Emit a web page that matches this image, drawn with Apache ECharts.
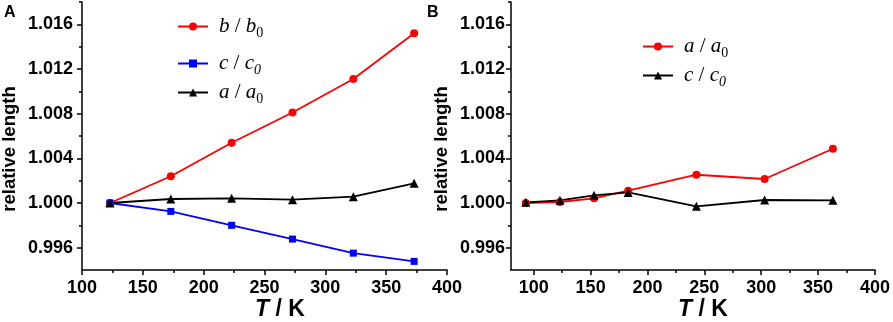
<!DOCTYPE html>
<html>
<head>
<meta charset="utf-8">
<script src="https://cdn.jsdelivr.net/npm/echarts@6/dist/echarts.min.js"></script>
<style>
html,body{margin:0;padding:0;background:#fff;}
#chart{width:893px;height:322px;}
</style>
</head>
<body>
<div id="chart"></div>
<script>
// ---- Panel A data ----
const tempA = [123, 173, 223, 273, 323, 373];
const bA = [1.0000, 1.0024, 1.0054, 1.0081, 1.0111, 1.0152];
const cA = [1.0000, 0.99925, 0.9980, 0.99677, 0.99551, 0.99477];
const aA = [1.0000, 1.00036, 1.00042, 1.00030, 1.00057, 1.00176];
// ---- Panel B data ----
const tempB = [93, 123, 153, 183, 243, 303, 363];
const aB = [1.0000, 1.00009, 1.00042, 1.00110, 1.00253, 1.00215, 1.00486];
const cB = [1.00006, 1.00024, 1.00069, 1.00095, 0.99970, 1.00027, 1.00024];
// ---- tick values ----
const yTicks = [0.996, 1.000, 1.004, 1.008, 1.012, 1.016];
const yMinor = [0.998, 1.002, 1.006, 1.010, 1.014, 1.018];
const xTicksB = [100, 150, 200, 250, 300, 350, 400];
const xMinorB = [125, 175, 225, 275, 325, 375];
const labelA = 'A', labelB = 'B';
const yName = 'relative length';
const legendA = ['A:b/b0', 'A:c/c0', 'A:a/a0'];
const legendB = ['B:a/a0', 'B:c/c0'];

const SANS = 'Liberation Sans, Arial, sans-serif';
const SERIF = 'Liberation Serif, Times New Roman, serif';

const pairs = (xs, ys) => xs.map((x, i) => [x, ys[i]]);

const axisLineStyle = {show: true, lineStyle: {color: '#000', width: 1.5}};
const labelStyle = {color: '#000', fontSize: 18, fontWeight: 'bold', fontFamily: SANS};

function yAxisMain(grid, margin) {
  return {
    type: 'value', gridIndex: grid, position: 'left', min: 0.994, max: 1.018,
    axisLine: axisLineStyle,
    axisTick: {show: true, length: 5, lineStyle: {color: '#000', width: 1.5}, customValues: yTicks},
    axisLabel: Object.assign({margin: margin, customValues: yTicks, formatter: v => Number(v).toFixed(3)}, labelStyle),
    splitLine: {show: false}
  };
}
function yAxisMinor(grid) {
  return {
    type: 'value', gridIndex: grid, position: 'left', min: 0.994, max: 1.018,
    axisLine: {show: false},
    axisTick: {show: true, length: 3, lineStyle: {color: '#000', width: 1.5}, customValues: yMinor},
    axisLabel: {show: false, customValues: yMinor},
    splitLine: {show: false}
  };
}

const legendRich = {
  i: {fontFamily: SERIF, fontStyle: 'italic', fontSize: 21, color: '#000', lineHeight: 28},
  n: {fontFamily: SERIF, fontSize: 21, color: '#000', lineHeight: 28},
  s: {fontFamily: SERIF, fontSize: 14, color: '#000', lineHeight: 12, verticalAlign: 'bottom'},
  si: {fontFamily: SERIF, fontStyle: 'italic', fontSize: 14, color: '#000', lineHeight: 12, verticalAlign: 'bottom'}
};
function legendFmt(name) {
  const p = name.split(':')[1].split('/');
  const sub = p[0] === 'c' ? 'si' : 's';
  return '{i|' + p[0] + '}{n| / }{i|' + p[1][0] + '}{' + sub + '|' + p[1].slice(1) + '}';
}
function mkLegend(name, left, top) {
  return {
    data: [name], left: left, top: top, itemWidth: 30, itemHeight: 10, itemGap: 0,
    formatter: legendFmt, textStyle: {rich: legendRich, padding: [0, 0, 0, 6]},
    selectedMode: false
  };
}

const chart = echarts.init(document.getElementById('chart'), null, {renderer: 'canvas'});
const option = {
  animation: false,
  backgroundColor: '#fff',
  grid: [
    {left: 82, right: 446, top: 2, bottom: 52},
    {left: 511, right: 16, top: 2, bottom: 52}
  ],
  xAxis: [
    {
      type: 'value', gridIndex: 0, min: 100, max: 400, interval: 50,
      axisLine: axisLineStyle,
      axisTick: {show: true, length: 5, lineStyle: {color: '#000', width: 1.5}},
      minorTick: {show: true, splitNumber: 2, length: 3, lineStyle: {color: '#000', width: 1.5}},
      axisLabel: Object.assign({margin: 9}, labelStyle),
      splitLine: {show: false}
    },
    {
      type: 'value', gridIndex: 1, min: 80, max: 400,
      axisLine: axisLineStyle,
      axisTick: {show: true, length: 5, lineStyle: {color: '#000', width: 1.5}, customValues: xTicksB},
      axisLabel: Object.assign({margin: 9, customValues: xTicksB}, labelStyle),
      splitLine: {show: false}
    },
    {
      type: 'value', gridIndex: 1, min: 80, max: 400, position: 'bottom',
      axisLine: {show: false},
      axisTick: {show: true, length: 3, lineStyle: {color: '#000', width: 1.5}, customValues: xMinorB},
      axisLabel: {show: false, customValues: xMinorB},
      splitLine: {show: false}
    }
  ],
  yAxis: [yAxisMain(0, 9), yAxisMinor(0), yAxisMain(1, 6), yAxisMinor(1)],
  legend: [
    mkLegend(legendA[0], 172, 11),
    mkLegend(legendA[1], 172, 48),
    mkLegend(legendA[2], 172, 77),
    mkLegend(legendB[0], 637, 31),
    mkLegend(legendB[1], 637, 60)
  ],
  series: [
    {name: legendA[0], type: 'line', xAxisIndex: 0, yAxisIndex: 0, data: pairs(tempA, bA),
     symbol: 'circle', symbolSize: 8, color: '#ff0000', lineStyle: {width: 1.8, color: '#ff0000'}},
    {name: legendA[1], type: 'line', xAxisIndex: 0, yAxisIndex: 0, data: pairs(tempA, cA),
     symbol: 'rect', symbolSize: 7, color: '#0000ff', lineStyle: {width: 1.8, color: '#0000ff'}},
    {name: legendA[2], type: 'line', xAxisIndex: 0, yAxisIndex: 0, data: pairs(tempA, aA),
     symbol: 'triangle', symbolSize: 9, color: '#000', lineStyle: {width: 1.8, color: '#000'}},
    {name: legendB[0], type: 'line', xAxisIndex: 1, yAxisIndex: 2, data: pairs(tempB, aB),
     symbol: 'circle', symbolSize: 8, color: '#ff0000', lineStyle: {width: 1.8, color: '#ff0000'}},
    {name: legendB[1], type: 'line', xAxisIndex: 1, yAxisIndex: 2, data: pairs(tempB, cB),
     symbol: 'triangle', symbolSize: 9, color: '#000', lineStyle: {width: 1.8, color: '#000'}}
  ],
  graphic: [
    {type: 'text', left: 4, top: 5, style: {text: labelA, font: 'bold 16px ' + SANS, fill: '#000'}},
    {type: 'text', left: 427, top: 5, style: {text: labelB, font: 'bold 16px ' + SANS, fill: '#000'}},
    {type: 'text', x: 10, y: 149, rotation: Math.PI / 2,
     style: {text: yName, font: 'bold 18.5px ' + SANS, fill: '#000', align: 'center', verticalAlign: 'middle'}},
    {type: 'text', x: 442, y: 149, rotation: Math.PI / 2,
     style: {text: yName, font: 'bold 18.5px ' + SANS, fill: '#000', align: 'center', verticalAlign: 'middle'}},
    {type: 'text', x: 280, y: 310,
     style: {text: '{t|T}{k| / K}', align: 'center', verticalAlign: 'middle',
       rich: {t: {font: 'italic bold 23px ' + SANS, fill: '#000'}, k: {font: 'bold 23px ' + SANS, fill: '#000'}}}},
    {type: 'text', x: 703, y: 310,
     style: {text: '{t|T}{k| / K}', align: 'center', verticalAlign: 'middle',
       rich: {t: {font: 'italic bold 23px ' + SANS, fill: '#000'}, k: {font: 'bold 23px ' + SANS, fill: '#000'}}}}
  ]
};
chart.setOption(option);
</script>
</body>
</html>
